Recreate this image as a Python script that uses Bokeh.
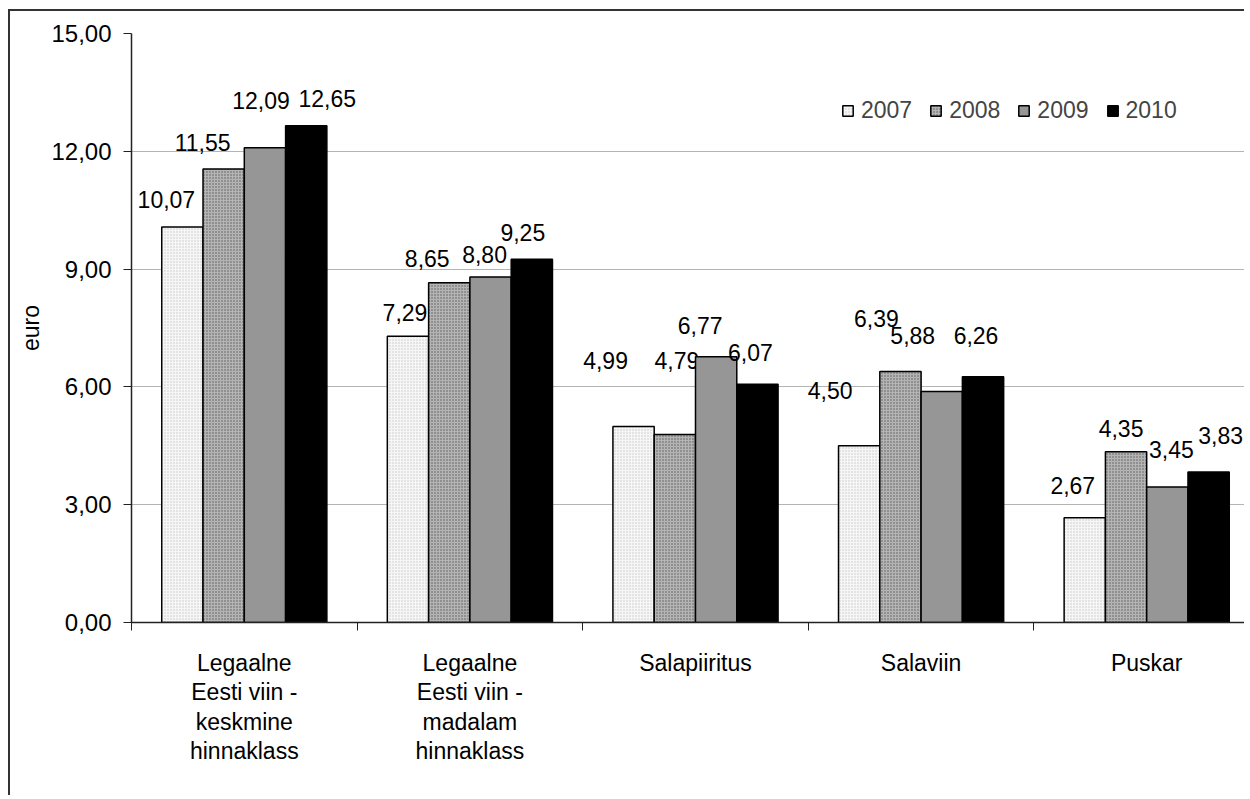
import numpy as np
from bokeh.plotting import figure
from bokeh.models import (Range1d, FixedTicker, CustomJSTickFormatter, Legend, LegendItem,
                          ColumnDataSource, LinearAxis)
from bokeh.core.properties import value
from bokeh.embed import file_html
from bokeh.resources import INLINE

# ---- data ----
categories = ["Legaalne\nEesti viin -\nkeskmine\nhinnaklass",
              "Legaalne\nEesti viin -\nmadalam\nhinnaklass",
              "Salapiiritus", "Salaviin", "Puskar"]
years = ["2007", "2008", "2009", "2010"]
v2007 = [10.07, 7.29, 4.99, 4.50, 2.67]
v2008 = [11.55, 8.65, 4.79, 6.39, 4.35]
v2009 = [12.09, 8.80, 6.77, 5.88, 3.45]
v2010 = [12.65, 9.25, 6.07, 6.26, 3.83]
y_ticks = [0, 3, 6, 9, 12, 15]

# label offsets (screen px) relative to the top-centre of each bar (manually placed labels)
label_dx = [[-16, -3, -28, -29, -12],
            [-21, -22, 2, -24, -5],
            [-4, -6, -16, -29, 4],
            [21, -9, -7, -7, 12]]
label_dy = [[-28, -24, -66, -55, -32],
            [-26, -24, -74, -53, -23],
            [-47, -22, -31, -56, -38],
            [-27, -27, -32, -41, -37]]

series = [v2007, v2008, v2009, v2010]
styles = [
    dict(fill_color="#f6f6f6", hatch_pattern="dot", hatch_color="#c4c4c4", hatch_scale=3, hatch_weight=1),
    dict(fill_color="#b4b4b4", hatch_pattern="dot", hatch_color="#5a5a5a", hatch_scale=3, hatch_weight=1),
    dict(fill_color="#969696"),
    dict(fill_color="#000000"),
]

FONT = "Liberation Sans"
FS = "23px"

p = figure(width=1236, height=786, output_backend="svg", toolbar_location=None,
           x_range=Range1d(0, 4.9424), y_range=Range1d(0, 15),
           min_border_left=121, min_border_top=22, min_border_bottom=175, min_border_right=0,
           x_axis_location=None, y_axis_location="left")
p.margin = (9, 0, 0, 8)
p.styles = {"border-left": "2px solid #333333", "border-top": "2px solid #333333"}
p.outline_line_color = None
p.background_fill_color = "white"
p.border_fill_color = "white"

p.xgrid.visible = False
p.ygrid.ticker = FixedTicker(ticks=y_ticks)
p.ygrid.grid_line_color = "#b4b4b4"
p.ygrid.grid_line_width = 1.2

yax = p.yaxis[0]
yax.ticker = FixedTicker(ticks=y_ticks, minor_ticks=[])
yax.formatter = CustomJSTickFormatter(code="return tick.toFixed(2).replace('.', ',');")
yax.axis_label = "euro"
yax.axis_label_text_font = FONT
yax.axis_label_text_font_size = FS
yax.axis_label_text_font_style = "normal"
yax.axis_label_text_color = "black"
yax.axis_label_standoff = 4
yax.major_label_text_font = FONT
yax.major_label_text_font_size = "24px"
yax.major_label_text_color = "black"
yax.major_label_standoff = 12
yax.major_tick_out = 8
yax.major_tick_in = 0
yax.major_tick_line_color = "#222222"
yax.axis_line_color = "#222222"
yax.axis_line_width = 1.5

xax = LinearAxis(ticker=FixedTicker(ticks=[0.5, 1.5, 2.5, 3.5, 4.5], minor_ticks=[0, 1, 2, 3, 4, 5]),
                 formatter=CustomJSTickFormatter(args=dict(labels=categories),
                                                 code="return labels[Math.round(tick - 0.5)];"))
xax.major_tick_line_color = None
xax.minor_tick_out = 8
xax.minor_tick_in = 0
xax.minor_tick_line_color = "#222222"
xax.axis_line_color = "#222222"
xax.axis_line_width = 1.5
xax.major_label_text_font = FONT
xax.major_label_text_font_size = FS
xax.major_label_text_color = "black"
xax.major_label_standoff = 19
xax.major_label_text_line_height = 1.14
p.add_layout(xax, "below")

bw = 0.183
centers = np.arange(len(categories)) + 0.5
renderers = []
for j, vals in enumerate(series):
    xs = centers + (j - 1.5) * bw
    src = ColumnDataSource(dict(x=xs, top=vals,
                                lbl=[f"{v:.2f}".replace(".", ",") for v in vals],
                                dx=label_dx[j], dy=label_dy[j]))
    r = p.vbar(x="x", top="top", bottom=0, width=bw, source=src,
               line_color="black", line_width=1.5, **styles[j])
    renderers.append(r)
    p.text(x="x", y="top", text="lbl", x_offset="dx", y_offset="dy", source=src,
           text_align="center", text_baseline="middle",
           text_font=value(FONT), text_font_size=FS, text_color="black")

legend = Legend(items=[LegendItem(label=y, renderers=[r]) for y, r in zip(years, renderers)],
                orientation="horizontal", location=(710, 498))
legend.label_text_font = FONT
legend.label_text_font_size = FS
legend.glyph_width = 13
legend.glyph_height = 13
legend.label_standoff = 7
legend.spacing = 17
legend.padding = 0
legend.margin = 0
legend.border_line_color = None
legend.background_fill_alpha = 0
p.add_layout(legend)

open("out.html", "w").write(file_html(p, INLINE))
